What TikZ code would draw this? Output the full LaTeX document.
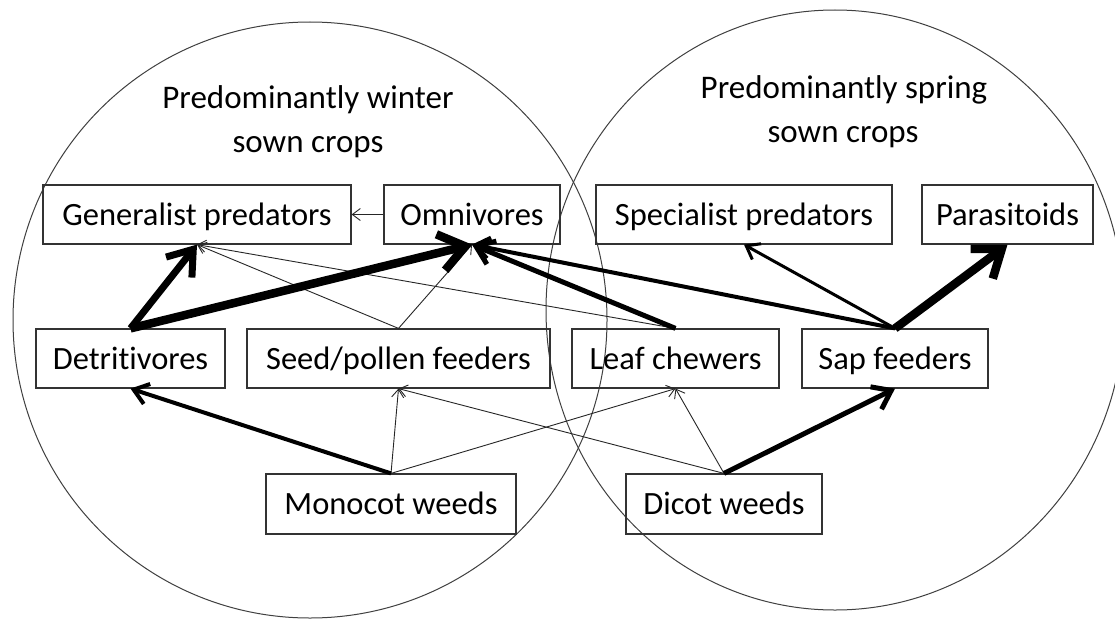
\documentclass[tikz,border=0pt]{standalone}
\usepackage{fontspec}
\setmainfont{Carlito}[Ligatures=NoCommon]
\usetikzlibrary{arrows.meta}
\tikzset{
  box/.style={draw=black!80, line width=1.2pt, minimum height=59pt, inner sep=0pt,
    text height=28pt, text depth=7pt, font=\fontsize{32.5}{38}\selectfont},
  ttl/.style={anchor=base, inner sep=0pt, font=\fontsize{33}{40}\selectfont},
  ring/.style={draw=black!75, line width=1pt},
  athin/.style={draw=black!85, line width=0.9pt, -{Straight Barb[length=8pt, width=12pt]}},
  athree/.style={line width=3pt, -{Straight Barb[length=12pt, width=18pt]}},
  afour/.style={line width=4pt, -{Straight Barb[length=14pt, width=21pt]}},
  afive/.style={line width=5pt, -{Straight Barb[length=17pt, width=25pt]}},
  aseven/.style={line width=7pt, -{Straight Barb[length=23pt, width=33pt]}},
  aeight/.style={line width=8.5pt, -{Straight Barb[length=25pt, width=37pt]}},
}
\begin{document}
\begin{tikzpicture}[x=1pt, y=-1pt]
\useasboundingbox (0,0) rectangle (1115,618);
\clip (0,0) rectangle (1115,618);
\fill[white] (0,0) rectangle (1115,618);
% the two crop circles
\draw[ring] (310,320) ellipse [x radius=297pt, y radius=298pt];
\draw[ring] (835,310) ellipse [x radius=289pt, y radius=300pt];
% titles
\node[ttl] (wt1) at (308,108) {Predominantly winter};
\node[ttl] (wt2) at (308,152) {sown crops};
\node[ttl] (st1) at (844,98) {Predominantly spring};
\node[ttl] (st2) at (843,142) {sown crops};
% boxes
\node[box, minimum width=308pt] (gen) at (197,214.5) {Generalist predators};
\node[box, minimum width=176pt] (omn) at (472,214.5) {Omnivores};
\node[box, minimum width=296pt] (spec) at (744,214.5) {Specialist predators};
\node[box, minimum width=171pt] (par) at (1007.5,214.5) {Parasitoids};
\node[box, minimum width=189pt] (det) at (130.5,358.5) {Detritivores};
\node[box, minimum width=303pt] (seed) at (398.5,358.5) {Seed/pollen feeders};
\node[box, minimum width=207pt] (leaf) at (675.5,358.5) {Leaf chewers};
\node[box, minimum width=186pt] (sap) at (895,358.5) {Sap feeders};
\node[box, minimum width=250pt, minimum height=60pt] (mono) at (391,504) {Monocot weeds};
\node[box, minimum width=196pt, minimum height=60pt] (dic) at (724,504) {Dicot weeds};
% thin links
\draw[athin] (omn.west) -- (gen.east);
\draw[athin] (seed.north) -- (gen.south);
\draw[athin] (seed.north) -- (omn.south);
\draw[athin] (leaf.north) -- (gen.south);
\draw[athin] (mono.north) -- (seed.south);
\draw[athin] (mono.north) -- (leaf.south);
\draw[athin] (dic.north) -- (seed.south);
\draw[athin] (dic.north) -- (leaf.south);
% heavier links
\draw[aseven] (det.north) -- (gen.south);
\draw[aeight] (det.north) -- (omn.south);
\draw[afive] (leaf.north) -- (omn.south);
\draw[afour] (sap.north) -- (omn.south);
\draw[athree] (sap.north) -- (spec.south);
\draw[aeight] (sap.north) -- (par.south);
\draw[afour] (mono.north) -- (det.south);
\draw[afive] (dic.north) -- (sap.south);
\end{tikzpicture}
\end{document}
